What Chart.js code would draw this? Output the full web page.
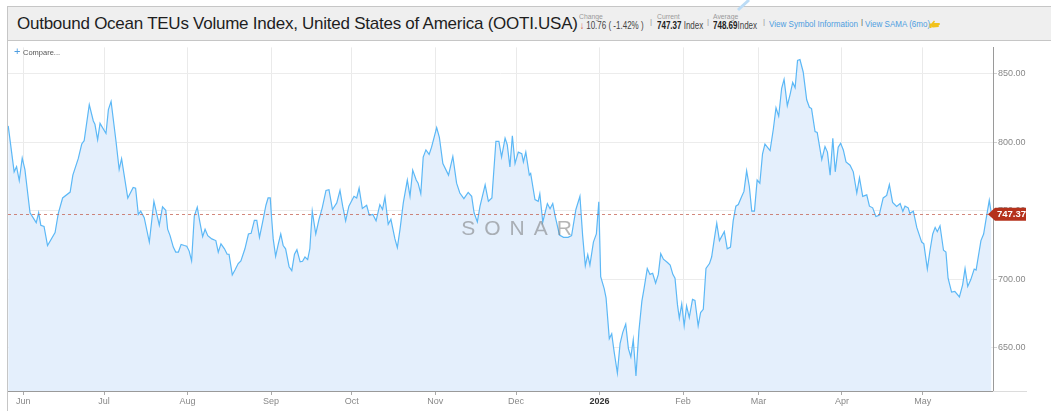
<!DOCTYPE html>
<html><head><meta charset="utf-8">
<script src="https://cdn.jsdelivr.net/npm/chart.js@4.4.1/dist/chart.umd.min.js"></script>
<style>
html,body{margin:0;padding:0;background:#fff;width:1051px;height:411px;overflow:hidden;font-family:'Liberation Sans',Arial,sans-serif;}
.a{position:absolute;white-space:nowrap;line-height:1;}
.lbl{font-size:6.8px;color:#9a9a9a;top:14px;}
.val{font-size:10px;color:#444;top:21px;transform:scaleX(0.8);transform-origin:0 50%;}
.sep{font-size:8px;color:#999;top:18px;}
.lnk{font-size:8.3px;color:#4d9de0;top:20px;transform:scaleX(0.97);transform-origin:0 50%;}
</style></head><body>
<div class="a" style="left:7px;top:6px;width:1044px;height:35px;box-sizing:border-box;background:#efefef;border:1px solid #c6c6c6;border-right:none;"></div>
<div class="a" style="left:17px;top:15px;font-size:17px;letter-spacing:-0.25px;color:#1e1e1e;">Outbound Ocean TEUs Volume Index, United States of America (OOTI.USA)</div>
<div class="a lbl" style="left:579px;">Change</div>
<div class="a val" style="left:580px;"><span style="color:#d23a2e;font-weight:bold">&#8595;</span> 10.76 ( -1.42% )</div>
<div class="a sep" style="left:650px;">|</div>
<div class="a lbl" style="left:657px;">Current</div>
<div class="a val" style="left:657px;"><b style="color:#222">747.37</b> Index</div>
<div class="a sep" style="left:707px;">|</div>
<div class="a lbl" style="left:713px;">Average</div>
<div class="a val" style="left:713px;"><b style="color:#222">748.69</b>Index</div>
<div class="a sep" style="left:763px;">|</div>
<div class="a lnk" style="left:769px;">View Symbol Information</div>
<div class="a sep" style="left:861px;color:#555">|</div>
<div class="a lnk" style="left:865px;">View SAMA (6mo)</div>
<svg class="a" style="left:929px;top:18px" width="13" height="11" viewBox="0 0 13 11">
<path d="M2 6 L5 2.5 L6 3.5 L5 5 L10 5 Q11 5 11 6 Q11 7 10 7 L9.5 7 Q10.5 8 9.5 9 L4 9.5 Q2 9.5 2 7.5 Z" fill="#f2c21b"/>
<rect x="0.5" y="5.5" width="2" height="4.5" fill="#f2c21b"/></svg>
<svg class="a" style="left:730px;top:0px" width="24" height="14"><line x1="19" y1="0" x2="8" y2="10" stroke="#bcdcf6" stroke-width="3"/></svg>
<div id="wrap" style="position:absolute;left:0;top:41px;width:1051px;height:370px"><canvas id="c" width="1051" height="370"></canvas></div>
<div class="a" style="left:7px;top:40px;width:1px;height:371px;background:#c6c6c6"></div>
<div class="a" style="left:14px;top:46px;font-size:11px;color:#4d9de0;">+</div>
<div class="a" style="left:23px;top:49px;font-size:7.5px;color:#555">Compare...</div>
<script>
// Day offsets counted from 1 Jun 2025
const days = [
-5.6,-3.4,-2.5,-1.5,-0.4,0.6,2.5,4.8,5.7,6.5,7.7,9.0,11.8,13.0,14.6,17.4,18.4,20.4,21.7,22.6,
24.5,26.0,26.6,27.6,28.5,30.7,31.6,32.6,34.4,35.6,36.5,38.8,40.8,41.7,42.7,43.6,44.9,46.8,48.5,50.5,
51.7,52.9,53.6,54.5,55.7,56.6,57.6,58.6,59.8,60.7,61.6,62.5,63.5,64.6,65.6,66.6,67.5,68.5,70.0,71.5,
72.4,73.4,74.7,75.7,76.4,77.6,78.6,79.8,80.8,82.3,83.6,84.6,85.8,86.7,87.7,88.9,90.1,90.9,91.7,92.2,
92.8,93.7,94.7,95.6,96.5,97.4,98.7,99.7,100.7,101.6,102.8,103.7,104.6,105.6,106.4,107.3,108.6,109.8,111.0,112.4,
113.5,114.8,116.4,117.6,118.6,119.7,120.9,122.8,123.8,124.7,125.9,127.5,128.5,129.8,131.0,132.4,133.4,134.3,135.5,136.5,
138.0,138.9,139.9,141.1,142.6,143.6,144.6,145.9,146.6,147.6,148.5,149.5,150.7,151.6,153.5,154.5,155.8,157.9,159.5,160.9,
162.1,163.6,165.2,166.5,167.4,168.6,169.6,171.5,172.7,174.0,175.5,176.6,177.6,178.9,179.7,180.7,181.6,182.6,183.8,185.1,
185.7,186.6,187.9,188.4,190.0,191.2,191.8,192.9,194.6,195.6,196.6,197.5,199.1,200.6,202.3,203.6,205.2,206.7,207.7,208.7,
209.6,210.4,211.7,212.8,213.7,214.4,215.7,216.4,217.6,218.5,219.4,220.6,221.6,222.6,223.7,224.7,225.6,226.5,227.5,228.6,
229.7,230.5,231.7,232.7,233.7,234.8,235.8,236.7,237.7,239.2,240.2,241.2,242.0,242.9,243.6,244.5,245.4,246.3,247.3,248.5,
249.4,250.6,251.5,252.5,253.5,254.8,255.6,256.6,257.5,258.5,260.3,261.4,262.6,263.6,264.6,265.5,266.8,267.6,268.6,269.6,
270.5,271.5,272.5,273.5,274.5,275.4,277.3,278.5,279.5,280.5,281.6,282.5,283.7,284.7,285.7,286.6,287.5,288.4,289.6,290.9,
291.9,292.7,294.0,294.8,296.5,297.7,298.6,299.6,300.6,301.5,302.6,303.5,304.5,305.5,307.0,308.2,309.5,310.5,311.7,313.2,
314.2,315.4,316.6,317.8,319.3,320.6,321.6,322.8,324.3,325.6,326.6,327.4,328.6,329.2,330.5,331.8,333.6,334.4,335.7,336.7,
337.7,338.6,339.4,340.4,341.7,342.6,343.4,344.7,345.9,347.6,348.8,349.7,350.7,351.8,353.1,353.8,355.6,356.6,357.4,358.7,
359.5];
const values = [
811.8,778.3,782.0,771.9,788.4,780.0,748.4,741.2,748.4,739.3,738.4,724.5,734.0,748.0,759.2,763.5,775.9,787.9,798.6,801.0,
827.3,815.4,813.0,801.7,813.7,806.3,823.7,829.7,801.0,780.0,787.9,759.2,766.9,766.4,747.2,749.6,744.8,727.0,756.8,739.3,
752.7,750.2,736.4,731.7,723.3,719.7,719.7,725.3,724.5,724.0,720.4,713.3,746.0,752.5,741.2,731.0,736.4,731.7,729.3,728.1,
719.7,725.7,722.1,718.1,718.1,703.0,706.6,711.3,713.3,722.1,732.9,733.4,742.9,742.9,730.5,742.0,753.9,759.2,759.2,744.8,
729.3,716.6,725.7,732.9,724.5,722.1,709.0,706.1,718.1,721.4,712.6,713.0,716.1,714.2,722.1,749.6,732.9,743.6,752.0,764.7,
765.2,750.8,755.6,764.7,753.2,742.5,753.2,760.4,759.2,766.4,751.5,753.9,746.5,747.2,742.5,754.4,750.8,759.9,740.0,743.6,
729.3,723.0,736.4,755.6,772.3,760.4,779.5,772.3,770.0,762.3,789.1,794.3,791.0,796.3,810.6,803.4,784.3,775.9,789.5,770.0,
762.8,758.7,763.3,760.4,748.4,741.7,753.2,768.8,756.8,759.2,800.6,800.6,789.1,802.9,798.1,781.9,804.6,784.3,792.7,791.5,
785.5,792.7,775.9,777.1,758.0,756.8,762.3,741.7,755.1,751.3,755.1,746.0,732.1,730.5,730.5,731.7,750.8,760.4,731.7,709.7,
717.8,710.2,727.0,732.9,756.5,701.8,693.0,686.2,656.4,660.0,646.8,631.3,652.8,661.1,667.1,649.2,643.2,655.7,629.3,662.3,
683.9,693.0,707.7,703.4,704.2,697.0,703.4,718.5,714.5,712.1,710.2,703.4,700.6,681.5,671.4,681.9,665.9,680.3,671.9,685.1,
684.4,665.9,675.5,677.9,707.7,711.3,716.1,729.3,740.8,728.1,734.6,722.1,723.3,742.5,753.2,754.4,760.4,764.0,779.0,767.6,
749.6,749.6,772.3,770.0,791.5,798.6,793.8,809.4,825.0,818.9,839.3,845.8,826.6,834.5,843.6,839.7,859.6,860.3,851.2,830.9,
825.4,824.5,807.7,807.0,787.2,796.7,792.7,775.9,802.7,778.3,796.3,799.1,794.3,785.5,783.1,778.3,762.8,774.0,760.4,761.5,
753.2,752.0,745.6,746.5,759.2,761.0,769.0,756.0,753.0,755.1,749.4,753.2,752.0,748.0,749.6,737.5,727.0,725.7,707.3,721.0,
732.9,737.7,734.6,738.9,721.0,719.7,700.6,690.5,691.0,686.9,695.8,707.7,694.6,699.4,707.3,706.6,728.1,732.9,742.5,757.5,
747.4];
const monthTickDays = [0,30,61,92,122,153,183,214,245,273,304,334];
const monthTickLabels = ['Jun','Jul','Aug','Sep','Oct','Nov','Dec','2026','Feb','Mar','Apr','May'];
const yTickValues = [650,700,750,800,850];
const currentValue = 747.37;
const xMin = -5.68, xMax = 360.08;
const yMin = 618.25, yMax = 869.15;

const overlay = {
  id:'overlay',
  afterDatasetsDraw(chart){
    const {ctx, chartArea:a, scales:{y}} = chart;
    ctx.save();
    // watermark
    ctx.fillStyle = 'rgba(110,110,110,0.5)';
    ctx.font = '21px "Liberation Sans", Arial, sans-serif';
    ctx.textBaseline = 'middle';
    const word = 'SONAR', sp = 9;
    let w = 0; for (const ch of word) w += ctx.measureText(ch).width + sp; w -= sp;
    let x = a.left + (a.right - a.left) * 0.5163 - w/2;
    const ty = a.top + (a.bottom - a.top) * 0.53;
    for (const ch of word){ ctx.fillText(ch, x, ty); x += ctx.measureText(ch).width + sp; }
    // current value dashed line
    const cy = Math.round(y.getPixelForValue(currentValue)) + 0.5;
    ctx.strokeStyle = 'rgba(196,96,80,0.75)';
    ctx.lineWidth = 1; ctx.setLineDash([3,3]);
    ctx.beginPath(); ctx.moveTo(a.left, cy); ctx.lineTo(a.right, cy); ctx.stroke();
    ctx.restore();
  },
  afterDraw(chart){
    const {ctx, chartArea:a, scales:{y}} = chart;
    ctx.save();
    ctx.strokeStyle = '#dcdcdc'; ctx.lineWidth = 1;
    ctx.beginPath(); ctx.moveTo(a.right, a.bottom + 0.5); ctx.lineTo(a.right + 34, a.bottom + 0.5); ctx.stroke();
    const cy = y.getPixelForValue(currentValue);
    const l = a.right - 5, r = a.right + 33;
    ctx.fillStyle = '#b5321c';
    ctx.beginPath();
    ctx.moveTo(l, cy); ctx.lineTo(l + 7, cy - 6.5); ctx.lineTo(r, cy - 6.5); ctx.lineTo(r, cy + 6.5); ctx.lineTo(l + 7, cy + 6.5); ctx.closePath(); ctx.fill();
    ctx.fillStyle = '#fff'; ctx.font = 'bold 9.5px "Liberation Sans", Arial, sans-serif';
    ctx.textBaseline = 'middle'; ctx.textAlign = 'left';
    ctx.fillText(currentValue.toFixed(2), l + 9, cy + 0.5);
    ctx.restore();
  }
};

new Chart(document.getElementById('c'), {
  type:'line',
  data:{datasets:[{
    data: days.map((d,i)=>({x:d, y:values[i]})),
    borderColor:'#5cb8f6', borderWidth:1.2, backgroundColor:'#e4effc',
    fill:'start', pointRadius:0, tension:0
  }]},
  options:{
    responsive:false, animation:false, devicePixelRatio:1,
    layout:{padding:{left:8,right:0,top:0,bottom:0}},
    plugins:{legend:{display:false}, tooltip:{enabled:false}},
    scales:{
      x:{
        type:'linear', min:xMin, max:xMax,
        afterBuildTicks(s){ s.ticks = monthTickDays.map(v=>({value:v})); },
        ticks:{autoSkip:false, maxRotation:0, padding:1,
          font:(c)=>({size:9, family:'"Liberation Sans", Arial, sans-serif', weight: monthTickLabels[c.index]==='2026' ? 'bold':'normal'}),
          color:(c)=> monthTickLabels[c.index]==='2026' ? '#333' : '#888',
          callback:(v,i)=>monthTickLabels[i]},
        grid:{color:'#eaeaea', tickColor:'#aaa', tickLength:4},
        border:{color:'#9a9a9a'},
        afterFit(s){ s.height = 20; }
      },
      y:{
        position:'right', min:yMin, max:yMax,
        afterBuildTicks(s){ s.ticks = yTickValues.map(v=>({value:v})); },
        ticks:{callback:(v)=>Number(v).toFixed(2), font:{size:9, family:'"Liberation Sans", Arial, sans-serif'}, color:'#888', padding:1},
        grid:{color:'#ececec', tickColor:'#d0d0d0', tickLength:4},
        border:{color:'#9a9a9a'},
        afterFit(s){ s.width = 58; }
      }
    }
  },
  plugins:[overlay]
});
</script>
</body></html>
